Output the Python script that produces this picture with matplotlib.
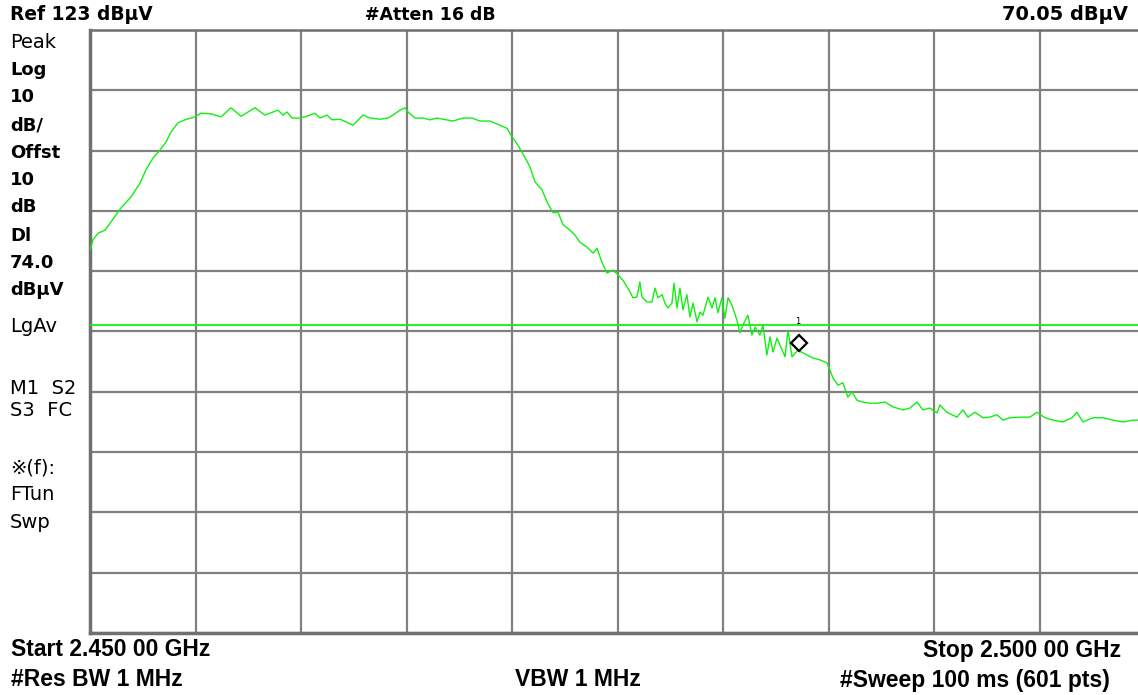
import matplotlib
matplotlib.use("Agg")
import matplotlib.pyplot as plt

# ---- data ----
ref_level = 123.0          # dBuV, top of screen
db_per_div = 10.0
display_line = 74.0        # dBuV
start_mhz = 2450.0
stop_mhz = 2500.0
marker_mhz = 2483.6
marker_level = 70.05

freq_mhz = [
    2450.00, 2450.14, 2450.38, 2450.71, 2451.00, 2451.47, 2451.94, 2452.37, 2452.65, 2452.99,
    2453.32, 2453.60, 2453.84, 2454.17, 2454.50, 2454.98, 2455.26, 2455.73, 2456.21, 2456.68,
    2457.16, 2457.82, 2458.29, 2458.91, 2459.15, 2459.34, 2459.57, 2459.95, 2460.28, 2460.66,
    2460.90, 2461.23, 2461.47, 2461.85, 2462.18, 2462.46, 2462.80, 2462.94, 2463.27, 2463.74,
    2464.12, 2464.36, 2464.69, 2464.93, 2465.07, 2465.40, 2465.78, 2466.11, 2466.44, 2467.20,
    2467.68, 2468.10, 2468.48, 2468.96, 2469.43, 2469.76, 2470.00, 2470.28, 2470.61, 2470.85,
    2471.09, 2471.42, 2471.66, 2471.94, 2472.18, 2472.42, 2472.75, 2472.98, 2473.22, 2473.55,
    2473.84, 2474.03, 2474.26, 2474.50, 2474.79, 2475.02, 2475.26, 2475.59, 2475.73, 2475.92,
    2476.06, 2476.16, 2476.40, 2476.63, 2476.78, 2476.92, 2477.11, 2477.25, 2477.39, 2477.58,
    2477.68, 2477.82, 2477.96, 2478.10, 2478.29, 2478.43, 2478.58, 2478.77, 2478.91, 2479.05,
    2479.29, 2479.48, 2479.62, 2479.76, 2479.95, 2480.09, 2480.24, 2480.42, 2480.66, 2480.80,
    2480.95, 2481.18, 2481.37, 2481.52, 2481.75, 2481.89, 2482.08, 2482.23, 2482.37, 2482.56,
    2482.94, 2483.08, 2483.27, 2483.55, 2483.98, 2484.26, 2484.59, 2484.93, 2485.07, 2485.21,
    2485.45, 2485.68, 2485.92, 2486.11, 2486.35, 2486.63, 2486.96, 2487.30, 2487.68, 2488.05,
    2488.53, 2488.86, 2489.19, 2489.48, 2489.81, 2490.14, 2490.28, 2490.61, 2491.09, 2491.37,
    2491.61, 2491.94, 2492.32, 2492.65, 2492.98, 2493.27, 2493.60, 2494.07, 2494.55, 2494.88,
    2495.26, 2495.64, 2496.11, 2496.54, 2496.77, 2497.06, 2497.53, 2498.01, 2498.48, 2498.96,
    2499.43, 2499.76, 2500.00,
]
level_dbuv = [
    86.5, 88.2, 89.3, 89.8, 91.2, 93.5, 95.3, 97.6, 99.8, 101.8,
    103.1, 104.4, 106.1, 107.6, 108.1, 108.6, 109.2, 109.1, 108.6, 110.1,
    108.7, 110.1, 108.9, 109.7, 108.9, 109.4, 108.4, 108.4, 108.7, 109.2,
    108.4, 108.9, 108.1, 108.2, 107.7, 107.2, 108.4, 108.9, 108.4, 108.2,
    108.4, 108.9, 109.7, 110.1, 109.4, 108.4, 108.4, 108.1, 108.4, 107.9,
    108.4, 108.4, 107.9, 107.9, 107.2, 106.7, 105.3, 103.9, 101.9, 100.3,
    97.8, 96.5, 94.5, 92.7, 92.8, 90.7, 89.8, 89.0, 87.8, 87.0,
    86.0, 86.8, 84.5, 82.7, 83.2, 82.4, 81.5, 79.6, 78.6, 78.7,
    81.2, 78.7, 77.9, 77.9, 80.2, 78.6, 79.1, 77.7, 76.9, 77.7,
    81.0, 76.9, 80.2, 76.6, 79.1, 75.4, 77.7, 74.6, 76.2, 75.7,
    78.7, 76.9, 78.6, 76.1, 78.6, 75.2, 78.6, 77.4, 74.9, 72.8,
    74.1, 75.7, 72.4, 73.7, 72.4, 74.1, 69.1, 72.1, 69.6, 71.9,
    68.8, 73.2, 68.8, 69.9, 69.1, 68.6, 68.3, 67.8, 66.6, 65.3,
    64.1, 64.5, 62.1, 63.0, 61.6, 61.3, 61.1, 61.1, 61.3, 60.5,
    60.0, 60.3, 61.3, 60.0, 60.3, 59.5, 60.8, 59.6, 58.8, 60.0,
    58.8, 59.6, 58.7, 58.8, 59.2, 58.3, 58.7, 58.8, 58.8, 59.6,
    58.7, 58.3, 58.0, 58.7, 59.6, 58.0, 58.7, 58.7, 58.3, 58.0,
    58.3, 58.3, 58.2,
]

left_labels = [("Peak", 42, False), ("Log", 70, True), ("10", 97, True),
               ("dB/", 125, True), ("Offst", 153, True), ("10", 180, True),
               ("dB", 207, True), ("Dl", 236, True), ("74.0", 263, True),
               ("dB\u03bcV", 290, True), ("LgAv", 327, False),
               ("M1  S2", 388, False), ("S3  FC", 411, False),
               ("\u203b(f):", 468, False), ("FTun", 495, False), ("Swp", 522, False)]

# ---- figure ----
W, H = 1138, 695
fig = plt.figure(figsize=(W / 100, H / 100), dpi=100)
fig.patch.set_facecolor("white")

ax_left, ax_top, ax_w, ax_h = 90, 30, 1055, 603
ax = fig.add_axes([ax_left / W, 1 - (ax_top + ax_h) / H, ax_w / W, ax_h / H])
ax.set_xlim(start_mhz, stop_mhz)
ax.set_ylim(ref_level - 10 * db_per_div, ref_level)
ax.set_xticks([start_mhz + i * (stop_mhz - start_mhz) / 10 for i in range(11)])
ax.set_yticks([ref_level - i * db_per_div for i in range(11)])
ax.tick_params(length=0, labelbottom=False, labelleft=False)
ax.grid(True, color="#808080", linewidth=1.6)
for side, sp in ax.spines.items():
    sp.set_color("#707070")
    sp.set_linewidth(2.5 if side in ("left", "bottom") else 1.8)

green = "#10f010"
ax.axhline(display_line, color=green, linewidth=1.3, zorder=3)
ax.plot(freq_mhz, level_dbuv, color=green, linewidth=1.0, zorder=4)
ax.plot([marker_mhz], [marker_level + 1.0], marker="D", markersize=8,
        markerfacecolor="white", markeredgecolor="black", markeredgewidth=1.6,
        linestyle="none", zorder=5)
ax.annotate("1", (marker_mhz, marker_level + 1.0), xytext=(-1, 16),
            textcoords="offset points", fontsize=6, ha="center", va="center",
            family="DejaVu Sans", zorder=6)

# ---- texts ----
def px(x, y):
    return x / W, 1 - y / H

wide = ["DejaVu Sans"]
arial = ["Liberation Sans", "DejaVu Sans"]

fig.text(*px(10, 15), "Ref 123 dB\u03bcV", fontsize=13.4, fontweight="bold",
         family=wide, va="center", ha="left")
fig.text(*px(365, 15), "#Atten 16 dB", fontsize=12.5, fontweight="bold",
         family=wide, va="center", ha="left")
fig.text(*px(1128, 15), "70.05 dB\u03bcV", fontsize=14, fontweight="bold",
         family=wide, va="center", ha="right")

for txt, y, b in left_labels:
    fig.text(*px(10, y), txt, fontsize=13 if b else 14,
             fontweight="bold" if b else "normal",
             family=wide, va="center", ha="left")

fig.text(*px(11, 650), "Start 2.450 00 GHz", fontsize=16.5, fontweight="bold",
         family=arial, va="center", ha="left")
fig.text(*px(1121, 650), "Stop 2.500 00 GHz", fontsize=16.5, fontweight="bold",
         family=arial, va="center", ha="right")
fig.text(*px(11, 680), "#Res BW 1 MHz", fontsize=16.5, fontweight="bold",
         family=arial, va="center", ha="left")
fig.text(*px(515, 680), "VBW 1 MHz", fontsize=16.5, fontweight="bold",
         family=arial, va="center", ha="left")
fig.text(*px(1110, 680), "#Sweep 100 ms (601 pts)", fontsize=16.5, fontweight="bold",
         family=arial, va="center", ha="right")

fig.savefig("out.png", dpi=100, facecolor="white")
